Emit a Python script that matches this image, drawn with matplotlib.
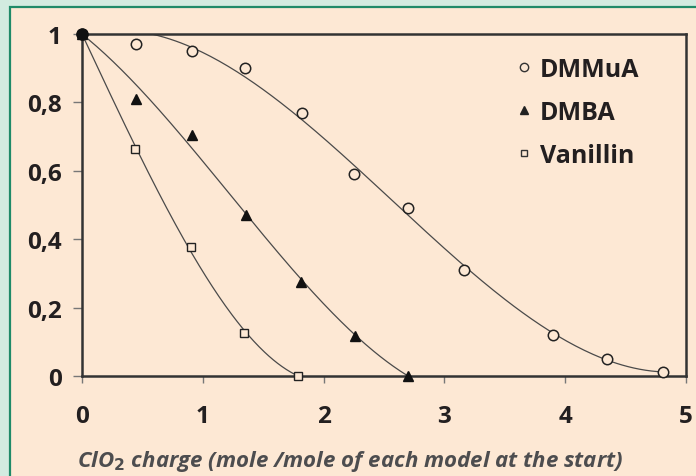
import matplotlib
matplotlib.use("Agg")
import matplotlib.pyplot as plt
from matplotlib.patches import Rectangle
import numpy as np

# ---- data ----
dmmua_x = [0, 0.45, 0.91, 1.35, 1.82, 2.25, 2.70, 3.16, 3.90, 4.35, 4.81]
dmmua_y = [1.0, 0.97, 0.95, 0.90, 0.77, 0.59, 0.49, 0.31, 0.12, 0.05, 0.012]
dmba_x = [0, 0.45, 0.91, 1.36, 1.81, 2.26, 2.70]
dmba_y = [1.0, 0.81, 0.705, 0.47, 0.275, 0.118, 0.0]
van_x = [0, 0.44, 0.90, 1.34, 1.79]
van_y = [1.0, 0.665, 0.376, 0.127, 0.0]

x_ticks = [0, 1, 2, 3, 4, 5]
y_ticks = [0, 0.2, 0.4, 0.6, 0.8, 1.0]
y_ticklabels = ["0", "0,2", "0,4", "0,6", "0,8", "1"]
series_names = ["DMMuA", "DMBA", "Vanillin"]

PEACH = "#fde8d4"
MINT = "#d2ebe0"
GREEN = "#1f8a68"
TXT = "#231f20"
FONT = ['Open Sans', 'DejaVu Sans']

plt.rcParams['font.family'] = FONT

fig = plt.figure(figsize=(6.96, 4.77), dpi=100)
fig.patch.set_facecolor(MINT)
panel = Rectangle((9.5/696, -0.01), 1.0, (477-7.5)/477 + 0.01, transform=fig.transFigure,
                  facecolor=PEACH, edgecolor=GREEN, linewidth=1.6, zorder=-10)
fig.patches.append(panel)

ax = fig.add_axes([82/696, 1-377/477, (686-82)/696, (377-35)/477])
ax.set_zorder(5)
ax.set_facecolor(PEACH)
ax.set_xlim(0, 5)
ax.set_ylim(0, 1)

# fitted trend curves (least-squares fits of each series)
for xs, ys, deg in [(dmmua_x, dmmua_y, 3), (dmba_x, dmba_y, 3), (van_x, van_y, 3)]:
    xs_a = np.asarray(xs); ys_a = np.asarray(ys)
    w = np.ones_like(xs_a); w[0] = 6; w[-1] = 4
    coef = np.polyfit(xs_a, ys_a, deg, w=w)
    xx = np.linspace(xs_a[0], xs_a[-1], 200)
    ax.plot(xx, np.polyval(coef, xx), color="#4a4a4a", linewidth=0.9, zorder=2)

ax.plot(dmmua_x, dmmua_y, linestyle="none", marker="o", markersize=7.5,
        markerfacecolor=PEACH, markeredgecolor="#222", markeredgewidth=1.1,
        clip_on=False, zorder=3)
ax.plot(dmba_x, dmba_y, linestyle="none", marker="^", markersize=7.5,
        markerfacecolor="#111", markeredgecolor="#111",
        clip_on=False, zorder=3)
ax.plot(van_x, van_y, linestyle="none", marker="s", markersize=5.5,
        markerfacecolor=PEACH, markeredgecolor="#222", markeredgewidth=1.0,
        clip_on=False, zorder=3)
ax.plot([dmmua_x[0]], [dmmua_y[0]], linestyle="none", marker="o", markersize=8,
        color="#111", clip_on=False, zorder=4)

for s in ax.spines.values():
    s.set_color("#333")
    s.set_linewidth(1.8)

ax.set_xticks(x_ticks)
ax.set_yticks(y_ticks)
ax.set_yticklabels(y_ticklabels)
ax.tick_params(axis="x", direction="out", length=5, width=1, color="#777",
               pad=15, labelsize=17.5, labelcolor=TXT)
ax.tick_params(axis="y", direction="out", length=6.5, width=1, color="#777",
               pad=8, labelsize=17.5, labelcolor=TXT)
for lab in ax.get_xticklabels() + ax.get_yticklabels():
    lab.set_fontweight("bold")

# legend
leg_markers = [dict(marker="o", markersize=6, markerfacecolor=PEACH, markeredgecolor="#333", markeredgewidth=1.0),
               dict(marker="^", markersize=6, markerfacecolor="#222", markeredgecolor="#222"),
               dict(marker="s", markersize=5, markerfacecolor=PEACH, markeredgecolor="#333", markeredgewidth=1.0)]
handles = [ax.plot([], [], linestyle="none", **mk)[0] for mk in leg_markers]
leg = ax.legend(handles, series_names, loc="upper left", bbox_to_anchor=(517/696, 1-58/477),
                bbox_transform=fig.transFigure, frameon=False, handlelength=0.55,
                handletextpad=0.35, labelspacing=0.72, borderpad=0, borderaxespad=0,
                prop=dict(family=FONT, weight="bold", size=18))
for t in leg.get_texts():
    t.set_color(TXT)

fig.text(350/696, 1-462/477, "ClO$_\\mathbf{2}$ charge (mole /mole of each model at the start)",
         ha="center", va="center", fontsize=16, fontstyle="italic", fontweight="bold",
         color="#4d4d4f", family=FONT)

fig.savefig("out.png", dpi=100, facecolor=fig.get_facecolor())
